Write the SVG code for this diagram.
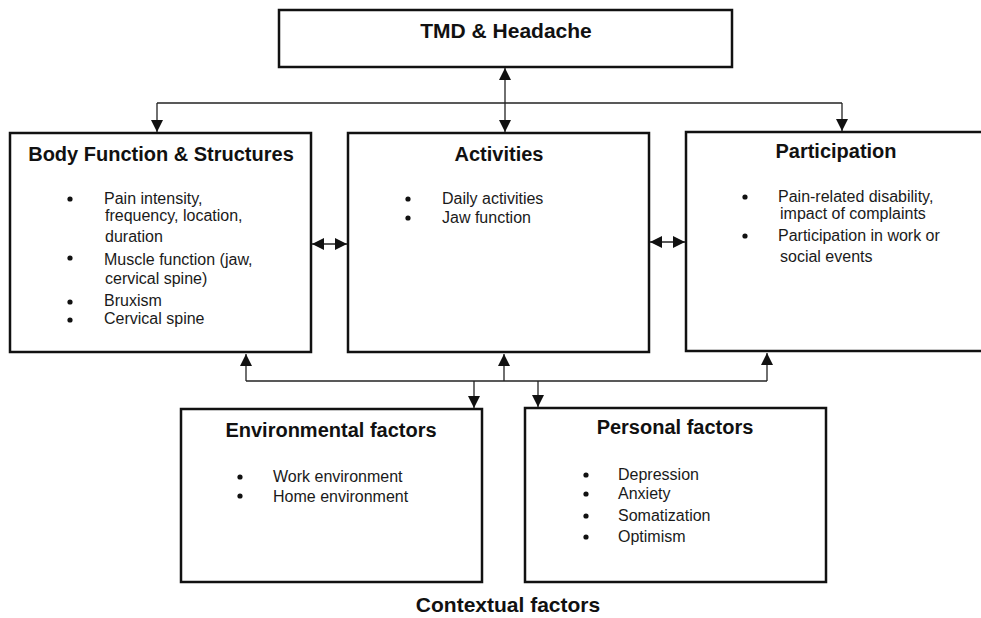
<svg xmlns="http://www.w3.org/2000/svg" width="981" height="618" viewBox="0 0 981 618">
  <style>
    .box { fill: #ffffff; stroke: #111111; stroke-width: 2.5; }
    .title { font-family: "Liberation Sans", Arial, sans-serif; font-weight: bold; font-size: 20px; fill: #111111; text-anchor: middle; }
    .big { font-size: 21px; }
    .item { font-family: "Liberation Sans", Arial, sans-serif; font-size: 16px; fill: #1a1a1a; }
    .dot { fill: #111111; }
    .link { fill: none; stroke: #222222; stroke-width: 1.3; }
    .one { marker-end: url(#head); }
    .two { marker-start: url(#head); marker-end: url(#head); }
  </style>
  <defs>
    <marker id="head" markerUnits="userSpaceOnUse" markerWidth="12" markerHeight="12" refX="12" refY="6" orient="auto-start-reverse">
      <path d="M0,0 L12,6 L0,12 z" fill="#111111"/>
    </marker>
  </defs>

  <rect width="981" height="618" fill="#ffffff"/>

  <!-- connectors -->
  <g id="connectors">
    <!-- top: headache box to the three domain boxes -->
    <path class="link two" d="M505,68 V132"/>
    <path class="link" d="M157,103 H842"/>
    <path class="link one" d="M157,103 V132"/>
    <path class="link one" d="M842,103 V131"/>
    <!-- side links between domain boxes -->
    <path class="link two" d="M312,244 H347"/>
    <path class="link two" d="M650,242 H685"/>
    <!-- bottom: contextual factors bus -->
    <path class="link" d="M246,381 H767"/>
    <path class="link one" d="M246,381 V354"/>
    <path class="link one" d="M504,381 V354"/>
    <path class="link one" d="M767,381 V353"/>
    <path class="link one" d="M474,381 V408"/>
    <path class="link one" d="M538,381 V407"/>
  </g>

  <g id="tmd-headache">
    <rect class="box" x="279" y="10" width="453" height="57"/>
    <text class="title big" x="506" y="38">TMD &amp; Headache</text>
  </g>

  <g id="body-function">
    <rect class="box" x="10" y="133" width="301" height="219"/>
    <text class="title" x="161" y="161">Body Function &amp; Structures</text>
    <circle class="dot" cx="70" cy="199" r="2.6"/>
    <text class="item" x="104" y="204">Pain intensity,</text>
    <text class="item" x="105" y="221">frequency,  location,</text>
    <text class="item" x="105" y="242">duration</text>
    <circle class="dot" cx="70" cy="258" r="2.6"/>
    <text class="item" x="104" y="265">Muscle function  (jaw,</text>
    <text class="item" x="105" y="284">cervical spine)</text>
    <circle class="dot" cx="70" cy="302" r="2.6"/>
    <text class="item" x="104" y="306">Bruxism</text>
    <circle class="dot" cx="70" cy="320" r="2.6"/>
    <text class="item" x="104" y="324">Cervical spine</text>
  </g>

  <g id="activities">
    <rect class="box" x="348" y="133" width="301" height="219"/>
    <text class="title" x="499" y="161">Activities</text>
    <circle class="dot" cx="408" cy="199" r="2.6"/>
    <text class="item" x="442" y="204">Daily activities</text>
    <circle class="dot" cx="408" cy="218" r="2.6"/>
    <text class="item" x="442" y="223">Jaw function</text>
  </g>

  <g id="participation">
    <rect class="box" x="686" y="132" width="300" height="219"/>
    <text class="title" x="836" y="158">Participation</text>
    <circle class="dot" cx="745" cy="197" r="2.6"/>
    <text class="item" x="778" y="202">Pain-related disability,</text>
    <text class="item" x="780" y="219">impact of complaints</text>
    <circle class="dot" cx="745" cy="236" r="2.6"/>
    <text class="item" x="778" y="241">Participation in work or</text>
    <text class="item" x="780" y="262">social events</text>
  </g>

  <g id="environmental-factors">
    <rect class="box" x="181" y="409" width="301" height="173"/>
    <text class="title" x="331" y="437">Environmental factors</text>
    <circle class="dot" cx="240" cy="477" r="2.6"/>
    <text class="item" x="273" y="482">Work environment</text>
    <circle class="dot" cx="240" cy="496" r="2.6"/>
    <text class="item" x="273" y="502">Home environment</text>
  </g>

  <g id="personal-factors">
    <rect class="box" x="525" y="408" width="301" height="174"/>
    <text class="title" x="675" y="434">Personal factors</text>
    <circle class="dot" cx="586" cy="475" r="2.6"/>
    <text class="item" x="618" y="480">Depression</text>
    <circle class="dot" cx="586" cy="494" r="2.6"/>
    <text class="item" x="618" y="499">Anxiety</text>
    <circle class="dot" cx="586" cy="516" r="2.6"/>
    <text class="item" x="618" y="521">Somatization</text>
    <circle class="dot" cx="586" cy="537" r="2.6"/>
    <text class="item" x="618" y="542">Optimism</text>
  </g>

  <g id="contextual-factors">
    <text class="title big" x="508" y="612">Contextual factors</text>
  </g>
</svg>
